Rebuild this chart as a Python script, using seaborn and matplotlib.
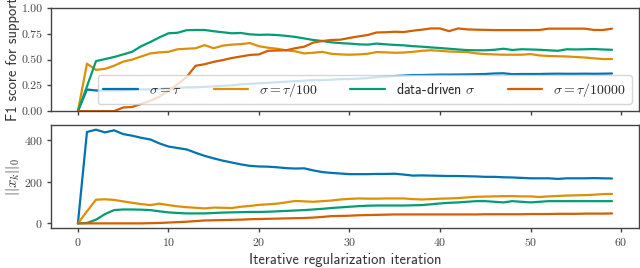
import numpy as np
import pandas as pd
import seaborn as sns
import matplotlib
matplotlib.use("Agg")
import matplotlib.pyplot as plt

# iterations
iterations = list(range(60))
methods = [r"$\sigma = \tau$", r"$\sigma = \tau/100$", r"data-driven $\sigma$", r"$\sigma = \tau/10000$"]

# F1 score for support (top panel)
f1_tau = [0.0, 0.21, 0.20, 0.20, 0.20, 0.20, 0.205, 0.21, 0.21, 0.215,
          0.22, 0.225, 0.23, 0.23, 0.235, 0.24, 0.245, 0.25, 0.26, 0.265,
          0.27, 0.275, 0.28, 0.285, 0.29, 0.295, 0.30, 0.30, 0.305, 0.31,
          0.31, 0.315, 0.32, 0.33, 0.335, 0.34, 0.345, 0.35, 0.35, 0.352,
          0.354, 0.354, 0.355, 0.356, 0.358, 0.36, 0.365, 0.367, 0.358, 0.36,
          0.36, 0.36, 0.362, 0.363, 0.362, 0.362, 0.363, 0.362, 0.363, 0.365]
f1_tau100 = [0.0, 0.46, 0.40, 0.41, 0.44, 0.48, 0.50, 0.53, 0.56, 0.57,
             0.575, 0.60, 0.605, 0.61, 0.64, 0.61, 0.635, 0.645, 0.65, 0.66,
             0.63, 0.615, 0.605, 0.59, 0.58, 0.56, 0.566, 0.575, 0.556, 0.55,
             0.547, 0.55, 0.556, 0.573, 0.57, 0.566, 0.568, 0.575, 0.585, 0.59,
             0.585, 0.578, 0.575, 0.573, 0.56, 0.553, 0.55, 0.547, 0.547, 0.547,
             0.553, 0.54, 0.535, 0.532, 0.53, 0.525, 0.52, 0.512, 0.505, 0.505]
f1_data = [0.0, 0.24, 0.485, 0.505, 0.525, 0.55, 0.576, 0.63, 0.67, 0.715,
           0.755, 0.76, 0.785, 0.787, 0.787, 0.775, 0.765, 0.755, 0.758, 0.745,
           0.74, 0.742, 0.738, 0.73, 0.72, 0.705, 0.69, 0.68, 0.667, 0.66,
           0.655, 0.648, 0.645, 0.655, 0.648, 0.642, 0.638, 0.63, 0.625, 0.618,
           0.612, 0.605, 0.598, 0.592, 0.59, 0.59, 0.595, 0.605, 0.593, 0.60,
           0.598, 0.595, 0.59, 0.585, 0.60, 0.598, 0.60, 0.602, 0.598, 0.595]
f1_tau10000 = [0.0, 0.0, 0.0, 0.0, 0.0, 0.035, 0.04, 0.07, 0.10, 0.14,
               0.20, 0.26, 0.33, 0.44, 0.455, 0.478, 0.495, 0.515, 0.53, 0.545,
               0.55, 0.585, 0.588, 0.59, 0.61, 0.625, 0.665, 0.68, 0.69, 0.693,
               0.71, 0.725, 0.738, 0.763, 0.765, 0.77, 0.767, 0.78, 0.79, 0.802,
               0.802, 0.776, 0.802, 0.793, 0.79, 0.788, 0.786, 0.786, 0.786, 0.786,
               0.786, 0.787, 0.80, 0.80, 0.80, 0.80, 0.80, 0.787, 0.787, 0.80]

# ||x_k||_0 (bottom panel)
l0_tau = [0, 440, 451, 438, 448, 430, 422, 412, 404, 385,
          370, 363, 356, 340, 325, 313, 302, 293, 284, 277,
          274, 273, 270, 266, 264, 265, 255, 247, 243, 240,
          237, 237, 237, 238, 238, 239, 235, 230, 231, 230,
          229, 228, 228, 227, 226, 224, 224, 222, 221, 219,
          217, 217, 217, 214, 217, 217, 217, 218, 217, 216]
l0_tau100 = [0, 58, 114, 116, 113, 106, 99, 93, 88, 95,
             88, 82, 78, 75, 72, 76, 75, 74, 80, 84,
             89, 92, 95, 101, 108, 106, 104, 107, 110, 115,
             118, 120, 119, 119, 120, 120, 120, 117, 115, 117,
             119, 120, 122, 125, 128, 129, 130, 131, 131, 130,
             130, 127, 130, 132, 134, 135, 136, 138, 141, 142]
l0_data = [0, 2, 18, 45, 64, 67, 67, 66, 64, 58,
           53, 50, 48, 48, 48, 50, 52, 53, 54, 55,
           55, 56, 58, 60, 62, 64, 67, 70, 74, 77,
           80, 83, 85, 86, 86, 86, 86, 87, 88, 92,
           96, 99, 101, 104, 107, 107, 104, 101, 107, 104,
           101, 104, 107, 107, 107, 107, 107, 107, 107, 107]
l0_tau10000 = [0, 0, 0, 0, 0, 0, 0, 0, 1, 2,
               4, 6, 8, 11, 14, 15, 16, 17, 18, 20,
               21, 22, 23, 24, 25, 26, 28, 31, 35, 36,
               37, 39, 40, 41, 42, 43, 43, 43, 43, 43,
               43, 43, 43, 43, 43, 44, 44, 44, 44, 44,
               45, 45, 45, 46, 46, 46, 47, 47, 47, 48]

f1_series = [f1_tau, f1_tau100, f1_data, f1_tau10000]
l0_series = [l0_tau, l0_tau100, l0_data, l0_tau10000]

df_f1 = pd.concat([pd.DataFrame({'iteration': iterations, 'value': s, 'method': m})
                   for m, s in zip(methods, f1_series)])
df_l0 = pd.concat([pd.DataFrame({'iteration': iterations, 'value': s, 'method': m})
                   for m, s in zip(methods, l0_series)])

sns.set_theme(style="ticks", palette="colorblind")
plt.rcParams['mathtext.fontset'] = 'cm'
plt.rcParams['font.family'] = ['cmss10', 'DejaVu Sans']
plt.rcParams['axes.formatter.use_mathtext'] = True
plt.rcParams['axes.unicode_minus'] = False

palette = sns.color_palette("colorblind", 4)

fig, (ax1, ax2) = plt.subplots(2, 1, figsize=(6.4, 2.68), dpi=100, sharex=True)
fig.subplots_adjust(left=0.08, right=0.998, top=0.97, bottom=0.149, hspace=0.135)

sns.lineplot(data=df_f1, x='iteration', y='value', hue='method', hue_order=methods,
             palette=palette, linewidth=1.6, ax=ax1)
sns.lineplot(data=df_l0, x='iteration', y='value', hue='method', hue_order=methods,
             palette=palette, linewidth=1.6, ax=ax2, legend=False)

# axes
ax1.set_ylim(0, 1)
ax1.set_yticks([0, 0.25, 0.5, 0.75, 1.0])
ax1.set_yticklabels(['0.00', '0.25', '0.50', '0.75', '1.00'])
ax2.set_yticks([0, 200, 400])
ax2.set_xticks([0, 10, 20, 30, 40, 50, 60])

for ax in (ax1, ax2):
    for sp in ax.spines.values():
        sp.set_color('#444444')
        sp.set_linewidth(1.0)
    ax.tick_params(length=3, width=1, color='#444444', labelsize=8.5,
                   labelcolor='#444444', labelfontfamily='cmr10', pad=3)

ax1.set_xlabel('')
ax1.set_ylabel('F1 score for support', fontsize=10.5, color='#333333', labelpad=1)
ax2.set_ylabel(r'$||x_k||_0$', fontsize=10.5, color='#333333', labelpad=1)
ax2.set_xlabel('Iterative regularization iteration', fontsize=10.5, color='#333333',
               labelpad=3)

handles, labels = ax1.get_legend_handles_labels()
ax1.legend(handles, labels, loc='lower right', ncol=4, fontsize=10,
           handlelength=2.5, columnspacing=2.3, framealpha=0.8,
           borderaxespad=0.5)

plt.savefig('out.png', dpi=100)
